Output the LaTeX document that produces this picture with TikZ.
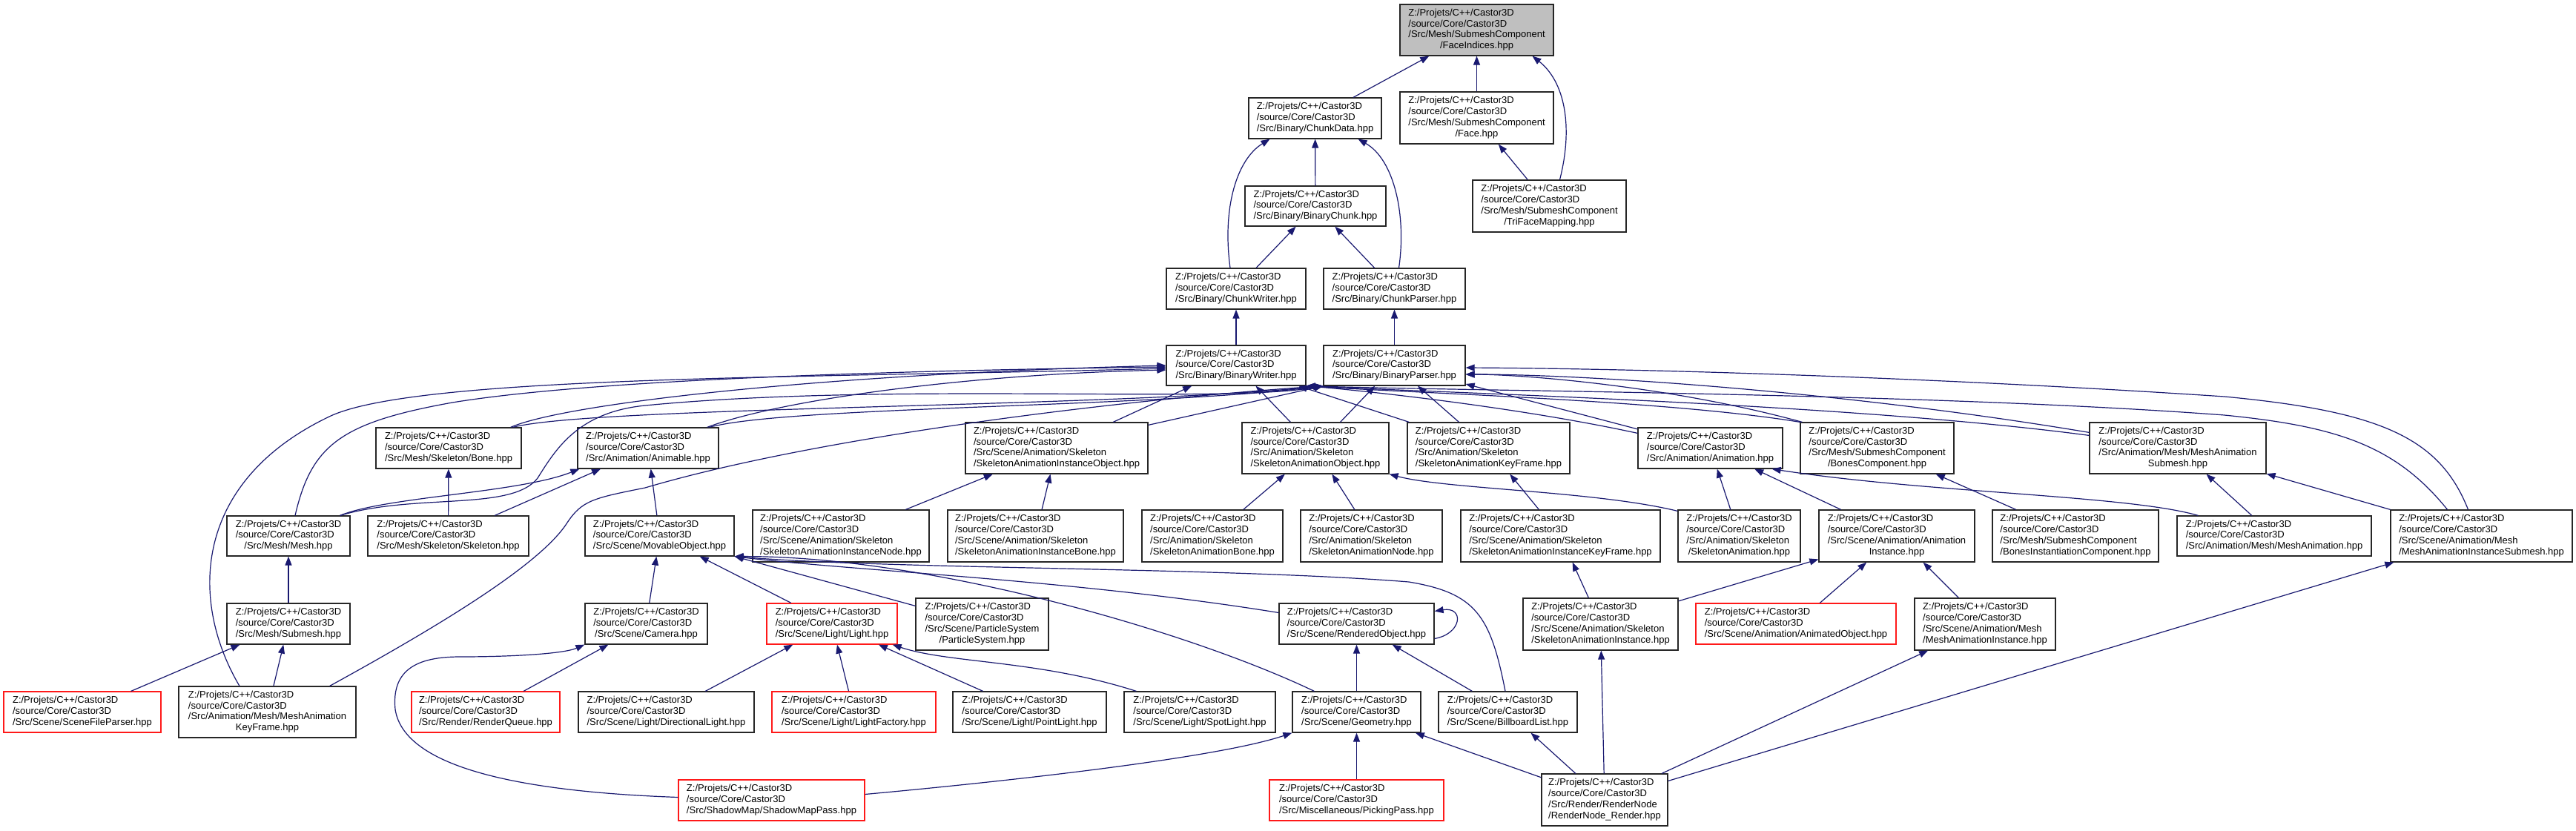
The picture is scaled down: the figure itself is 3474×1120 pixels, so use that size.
\documentclass[tikz,border=0pt]{standalone}
\usepackage{fontspec}
\setmainfont{Liberation Sans}
\usetikzlibrary{arrows.meta}
\definecolor{edgec}{RGB}{25,25,112}
\definecolor{rootfill}{RGB}{191,191,191}
\newcommand{\cpre}{Z:/Projets/C++/Castor3D\\/source/Core/Castor3D}
\newcommand{\flab}[2]{\begin{tabular}{@{}l@{}}#1\\\multicolumn{1}{@{}c@{}}{#2}\end{tabular}}
\newcommand{\mknode}[8]{\node[gbox,#6,minimum width=#4pt,minimum height=#5pt] (#1) at (#2,#3) {\flab{#7}{#8}};}
\begin{document}
\begin{tikzpicture}[x=1pt,y=-1pt,
  gbox/.style={draw=black!85, line width=1.2pt, fill=white, inner sep=0pt, font=\fontsize{13}{14.8}\selectfont},
  redbox/.style={draw=red!90!white},
  rootbox/.style={fill=rootfill},
  inc/.style={draw=edgec, line width=1.2pt, -{Triangle[length=12pt,width=9pt]}}]
\fill[white] (0,0) rectangle (3474,1120);
\useasboundingbox (0,0) rectangle (3474,1120);

% nodes
\mknode{fi}{1991.5}{40.5}{207}{69}{rootbox}{\cpre\\/Src/Mesh/SubmeshComponent}{/FaceIndices.hpp}
\mknode{cd}{1773.5}{159.5}{179}{55}{}{\cpre}{/Src/Binary/ChunkData.hpp}
\mknode{face}{1991.5}{159}{207}{70}{}{\cpre\\/Src/Mesh/SubmeshComponent}{/Face.hpp}
\mknode{tfm}{2089.5}{278}{207}{70}{}{\cpre\\/Src/Mesh/SubmeshComponent}{/TriFaceMapping.hpp}
\mknode{bc}{1774}{278}{190}{54}{}{\cpre}{/Src/Binary/BinaryChunk.hpp}
\mknode{cw}{1667}{389.5}{188}{55}{}{\cpre}{/Src/Binary/ChunkWriter.hpp}
\mknode{cp}{1880.5}{389.5}{191}{55}{}{\cpre}{/Src/Binary/ChunkParser.hpp}
\mknode{bw}{1667}{493}{188}{54}{}{\cpre}{/Src/Binary/BinaryWriter.hpp}
\mknode{bp}{1880.5}{493}{191}{54}{}{\cpre}{/Src/Binary/BinaryParser.hpp}

\mknode{bone}{605}{604.5}{196}{55}{}{\cpre}{/Src/Mesh/Skeleton/Bone.hpp}
\mknode{anim}{874}{604.5}{190}{55}{}{\cpre}{/Src/Animation/Animable.hpp}
\mknode{saio}{1425}{604.5}{246}{69}{}{\cpre\\/Src/Scene/Animation/Skeleton}{/SkeletonAnimationInstanceObject.hpp}
\mknode{sao}{1774}{604.5}{198}{69}{}{\cpre\\/Src/Animation/Skeleton}{/SkeletonAnimationObject.hpp}
\mknode{sakf}{2007.5}{604.5}{219}{69}{}{\cpre\\/Src/Animation/Skeleton}{/SkeletonAnimationKeyFrame.hpp}
\mknode{animation}{2306.5}{604.5}{195}{55}{}{\cpre}{/Src/Animation/Animation.hpp}
\mknode{bonesc}{2531.5}{604.5}{207}{69}{}{\cpre\\/Src/Mesh/SubmeshComponent}{/BonesComponent.hpp}
\mknode{mas}{2937}{604.5}{238}{69}{}{\cpre\\/Src/Animation/Mesh/MeshAnimation}{Submesh.hpp}

\mknode{mesh}{389}{723}{166}{54}{}{\cpre}{/Src/Mesh/Mesh.hpp}
\mknode{skel}{604.5}{723}{217}{54}{}{\cpre}{/Src/Mesh/Skeleton/Skeleton.hpp}
\mknode{mov}{889.5}{723}{201}{54}{}{\cpre}{/Src/Scene/MovableObject.hpp}
\mknode{sain}{1134}{723}{238}{70}{}{\cpre\\/Src/Scene/Animation/Skeleton}{/SkeletonAnimationInstanceNode.hpp}
\mknode{saib}{1396.5}{723}{237}{70}{}{\cpre\\/Src/Scene/Animation/Skeleton}{/SkeletonAnimationInstanceBone.hpp}
\mknode{sab}{1635}{723}{190}{70}{}{\cpre\\/Src/Animation/Skeleton}{/SkeletonAnimationBone.hpp}
\mknode{san}{1849.5}{723}{191}{70}{}{\cpre\\/Src/Animation/Skeleton}{/SkeletonAnimationNode.hpp}
\mknode{saikf}{2104.5}{723}{269}{70}{}{\cpre\\/Src/Scene/Animation/Skeleton}{/SkeletonAnimationInstanceKeyFrame.hpp}
\mknode{sa}{2345.5}{723}{165}{70}{}{\cpre\\/Src/Animation/Skeleton}{/SkeletonAnimation.hpp}
\mknode{ai}{2558}{723}{210}{70}{}{\cpre\\/Src/Scene/Animation/Animation}{Instance.hpp}
\mknode{bic}{2799}{723}{224}{70}{}{\cpre\\/Src/Mesh/SubmeshComponent}{/BonesInstantiationComponent.hpp}
\mknode{ma}{3067}{723}{262}{54}{}{\cpre}{/Src/Animation/Mesh/MeshAnimation.hpp}
\mknode{mais}{3346.5}{723}{245}{70}{}{\cpre\\/Src/Scene/Animation/Mesh}{/MeshAnimationInstanceSubmesh.hpp}

\mknode{submesh}{389}{841.5}{166}{55}{}{\cpre}{/Src/Mesh/Submesh.hpp}
\mknode{cam}{871.5}{841.5}{165}{55}{}{\cpre}{/Src/Scene/Camera.hpp}
\mknode{light}{1122}{841.5}{176}{55}{redbox}{\cpre}{/Src/Scene/Light/Light.hpp}
\mknode{ps}{1324.5}{842}{179}{70}{}{\cpre\\/Src/Scene/ParticleSystem}{/ParticleSystem.hpp}
\mknode{ro}{1829.5}{841.5}{209}{55}{}{\cpre}{/Src/Scene/RenderedObject.hpp}
\mknode{sai}{2158.5}{842}{209}{70}{}{\cpre\\/Src/Scene/Animation/Skeleton}{/SkeletonAnimationInstance.hpp}
\mknode{ao}{2422}{841.5}{270}{55}{redbox}{\cpre}{/Src/Scene/Animation/AnimatedObject.hpp}
\mknode{mai}{2677}{842}{190}{70}{}{\cpre\\/Src/Scene/Animation/Mesh}{/MeshAnimationInstance.hpp}

\mknode{sfp}{111}{960.5}{212}{55}{redbox}{\cpre}{/Src/Scene/SceneFileParser.hpp}
\mknode{makf}{360.5}{960.5}{239}{69}{}{\cpre\\/Src/Animation/Mesh/MeshAnimation}{KeyFrame.hpp}
\mknode{rq}{655}{960.5}{200}{55}{redbox}{\cpre}{/Src/Render/RenderQueue.hpp}
\mknode{dl}{898.5}{960.5}{237}{55}{}{\cpre}{/Src/Scene/Light/DirectionalLight.hpp}
\mknode{lf}{1151.5}{960.5}{221}{55}{redbox}{\cpre}{/Src/Scene/Light/LightFactory.hpp}
\mknode{pl}{1388.5}{960.5}{207}{55}{}{\cpre}{/Src/Scene/Light/PointLight.hpp}
\mknode{sl}{1618}{960.5}{204}{55}{}{\cpre}{/Src/Scene/Light/SpotLight.hpp}
\mknode{geo}{1829.5}{960.5}{173}{55}{}{\cpre}{/Src/Scene/Geometry.hpp}
\mknode{bl}{2033.5}{960.5}{187}{55}{}{\cpre}{/Src/Scene/BillboardList.hpp}

\mknode{smp}{1040.5}{1079.5}{251}{55}{redbox}{\cpre}{/Src/ShadowMap/ShadowMapPass.hpp}
\mknode{pp}{1829.5}{1079.5}{235}{55}{redbox}{\cpre}{/Src/Miscellaneous/PickingPass.hpp}
\mknode{rnr}{2164}{1079}{170}{70}{}{\cpre\\/Src/Render/RenderNode}{/RenderNode\_Render.hpp}

% top edges
\draw[inc] (cd) -- (fi);
\draw[inc] (face) -- (fi);
\draw[inc] ([xshift=14pt]tfm.north) .. controls (2122,170) and (2110,110) .. ([xshift=75pt]fi.south);
\draw[inc] (tfm) -- (face);
\draw[inc] (bc) -- (cd);
\draw[inc] ([xshift=-8pt]cw.north) .. controls (1648,280) and (1668,215) .. ([xshift=-61pt]cd.south);
\draw[inc] ([xshift=6pt]cp.north) .. controls (1897,290) and (1880,215) .. ([xshift=58pt]cd.south);
\draw[inc] (cw) -- (bc);
\draw[inc] (cp) -- (bc);
\draw[inc] (bw) -- (cw);
\draw[inc] (bp) -- (cp);

% into BinaryWriter from the left
\draw[inc] ([xshift=-37.5pt]makf.north) .. controls (255,810) and (260,650) .. (444,562) .. controls (560,506) and (1100,510) .. ([yshift=-4pt]bw.west);
\draw[inc] ([xshift=9pt]mesh.north) .. controls (420,600) and (460,570) .. (610,543) .. controls (800,512) and (1200,500) .. ([yshift=-2pt]bw.west);
\draw[inc] ([xshift=-15pt]bone.north east) .. controls (760,545) and (1100,505) .. (bw.west);
\draw[inc] ([xshift=-16pt]anim.north east) .. controls (1050,540) and (1300,505) .. ([yshift=-6pt]bw.west);

% into BinaryParser from the left
\draw[inc] ([xshift=-14pt]mesh.north east) .. controls (560,665) and (690,690) .. (725,645) .. controls (750,605) and (780,556) .. (870,547) .. controls (1200,515) and (1650,545) .. (bp.south west);
\draw[inc] ([xshift=-12pt]bone.north east) .. controls (800,548) and (1500,550) .. (bp.south west);
\draw[inc] ([xshift=-13pt]anim.north east) .. controls (1060,548) and (1550,550) .. (bp.south west);
\draw[inc] ([yshift=-4pt]saio.north east) -- (bp.south west);
\draw[inc] ([xshift=-36pt]makf.north east) .. controls (600,840) and (730,760) .. (765,705) .. controls (785,675) and (800,672) .. (870,658) .. controls (1100,590) and (1500,540) .. (bp.south west);

% from below / right into BinaryWriter and BinaryParser
\draw[inc] (saio) -- (bw);
\draw[inc] (sao) -- (bw);
\draw[inc] (sao) -- (bp);
\draw[inc] (sakf) -- (bw);
\draw[inc] (sakf) -- (bp);
\draw[inc] (animation) -- (bp);
\draw[inc] ([yshift=-8pt]animation.north west) .. controls (2050,550) and (1850,528) .. (bw.south east);
\draw[inc] (bonesc.north west) .. controls (2250,540) and (1900,530) .. (bw.south east);
\draw[inc] ([xshift=3pt]bonesc.north west) .. controls (2250,520) and (2050,505) .. ([yshift=-12pt]bp.east);
\draw[inc] ([yshift=-18pt]mas.north west) .. controls (2500,545) and (1950,530) .. (bw.south east);
\draw[inc] ([yshift=-14pt]mas.north west) .. controls (2500,530) and (2150,505) .. ([yshift=-12pt]bp.east);
\draw[inc] ([xshift=-18pt]mais.north) .. controls (3290,590) and (3210,555) .. (3000,535) .. controls (2700,515) and (2300,498) .. ([yshift=-3pt]bp.east);
\draw[inc] ([xshift=-46pt]mais.north) .. controls (3230,600) and (3150,575) .. (3000,560) .. controls (2600,530) and (2000,528) .. (bw.south east);

% lower left
\draw[inc] (skel) -- (bone);
\draw[inc] (skel) -- (anim);
\draw[inc] (mov) -- (anim);
\draw[inc] ([xshift=-14pt]mesh.north east) .. controls (520,670) and (700,665) .. ([xshift=3pt]anim.south west);
\draw[inc] (submesh) -- (mesh);
\draw[inc] (sfp) -- (submesh);
\draw[inc] (makf) -- (submesh);
\draw[inc] (cam) -- (mov);
\draw[inc] (rq) -- (cam);
\draw[inc] ([yshift=4pt]smp.west) .. controls (700,1068) and (545,1035) .. (533,957) .. controls (528,905) and (560,886) .. (620,886) .. controls (690,886) and (760,882) .. (cam.south west);
\draw[inc] ([yshift=8pt]smp.east) .. controls (1400,1050) and (1650,1020) .. (geo.south west);
\draw[inc] (light) -- (mov);
\draw[inc] (ps) -- (mov);
\draw[inc] ([yshift=15pt]ro.west) .. controls (1450,782) and (1150,770) .. (mov.south east);
\draw[inc] ([xshift=30pt]geo.north west) .. controls (1600,850) and (1250,750) .. (mov.south east);
\draw[inc] ([xshift=-3.5pt]bl.north) .. controls (2010,830) and (1990,800) .. (1900,785) .. controls (1650,765) and (1200,768) .. (mov.south east);
\draw[inc] (dl) -- (light);
\draw[inc] (lf) -- (light);
\draw[inc] (pl) -- (light);
\draw[inc] ([xshift=17pt]sl.north west) .. controls (1400,890) and (1280,895) .. ([xshift=-7pt]light.south east);
\draw[inc] ([yshift=-20pt]ro.east) .. controls (1972,855) and (1975,818) .. ([yshift=17pt]ro.east);
\draw[inc] (geo) -- (ro);
\draw[inc] (bl) -- (ro);
\draw[inc] (pp) -- (geo);

% lower right
\draw[inc] (rnr) -- (geo);
\draw[inc] (rnr) -- (bl);
\draw[inc] (rnr) -- (sai);
\draw[inc] (rnr) -- (mai);
\draw[inc] (rnr) -- (mais);
\draw[inc] (sai) -- (saikf);
\draw[inc] (sai) -- (ai);
\draw[inc] (ao) -- (ai);
\draw[inc] (mai) -- (ai);
\draw[inc] (ai) -- (animation);
\draw[inc] (sa) -- (animation);
\draw[inc] ([xshift=29pt]ma.north west) .. controls (2870,668) and (2600,665) .. ([xshift=-15pt]animation.south east);
\draw[inc] ([yshift=-2pt]sa.north west) .. controls (2150,662) and (1950,660) .. (sao.south east);
\draw[inc] (san) -- (sao);
\draw[inc] (sab) -- (sao);
\draw[inc] (saikf) -- (sakf);
\draw[inc] (sain) -- (saio);
\draw[inc] (saib) -- (saio);
\draw[inc] (bic) -- (bonesc);
\draw[inc] (ma) -- (mas);
\draw[inc] (mais) -- (mas);
\end{tikzpicture}
\end{document}
